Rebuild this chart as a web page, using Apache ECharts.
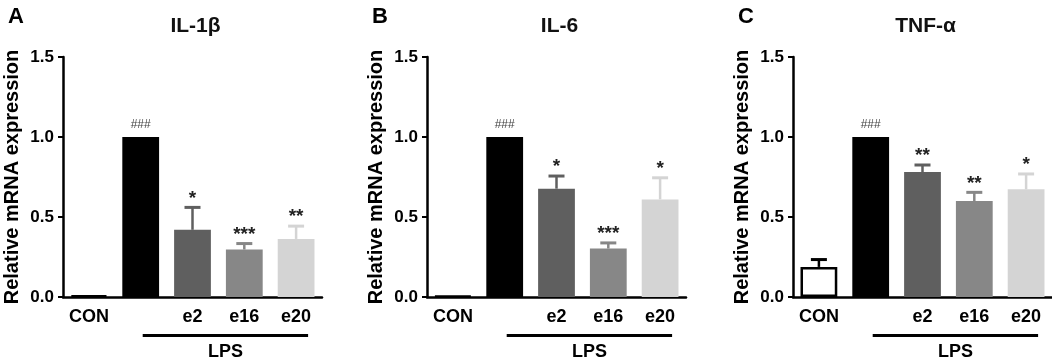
<!DOCTYPE html>
<html>
<head>
<meta charset="utf-8">
<script src="https://cdn.jsdelivr.net/npm/echarts@6/dist/echarts.min.js"></script>
<style>
  html, body { margin: 0; padding: 0; background: #fff; }
  #chart { width: 1052px; height: 361px; }
</style>
</head>
<body>
<div id="chart"></div>
<script>
const categories = ['CON', 'LPS', 'e2', 'e16', 'e20']
const tickLabels = ['CON', '', 'e2', 'e16', 'e20']
const barColors = ['#ffffff', '#000000', '#5f5f5f', '#878787', '#d4d4d4']

const panelLetters = ['A', 'B', 'C']
const panelTitles = ['IL-1β', 'IL-6', 'TNF-α']

// mean and SEM (upper error bar only) per group
const il1bMean = [0.01, 1.0, 0.42, 0.297, 0.363]
const il1bSem = [0, 0, 0.14, 0.037, 0.08]
const il1bSig = ['', '###', '*', '***', '**']

const il6Mean = [0.005, 1.0, 0.677, 0.303, 0.61]
const il6Sem = [0, 0, 0.079, 0.035, 0.135]
const il6Sig = ['', '###', '*', '***', '*']

const tnfMean = [0.188, 1.0, 0.781, 0.6, 0.673]
const tnfSem = [0.046, 0, 0.044, 0.054, 0.096]
const tnfSig = ['', '###', '**', '**', '*']

const yTicks = [0, 0.5, 1.0, 1.5]

const panels = [
  { mean: il1bMean, sem: il1bSem, sig: il1bSig },
  { mean: il6Mean, sem: il6Sem, sig: il6Sig },
  { mean: tnfMean, sem: tnfSem, sig: tnfSig }
]

const font = '"Liberation Sans", Arial, sans-serif'
const gridLefts = [63, 427, 793]
const gridWidth = 259

const chart = echarts.init(document.getElementById('chart'))

const grid = []
const xAxis = []
const yAxis = []
const series = []
const title = []

panels.forEach((p, i) => {
  grid.push({ left: gridLefts[i], top: 57, width: gridWidth, height: 240 })

  title.push({
    text: panelTitles[i],
    left: gridLefts[i] + gridWidth / 2 - 2,
    top: 11,
    textAlign: 'center',
    textStyle: { fontFamily: font, fontWeight: 'bold', fontSize: 21, color: '#111' }
  })
  title.push({
    text: panelLetters[i],
    left: gridLefts[i] - 60,
    top: 1,
    textStyle: { fontFamily: font, fontWeight: 'bold', fontSize: 22, color: '#000' }
  })

  xAxis.push({
    gridIndex: i,
    type: 'category',
    data: categories,
    axisLine: { lineStyle: { color: '#000', width: 2.5 } },
    axisTick: { alignWithLabel: true, length: 5, lineStyle: { color: '#000', width: 2 } },
    axisLabel: {
      interval: 0,
      margin: 11,
      fontFamily: font, fontWeight: 'bold', fontSize: 18, color: '#000',
      formatter: (v, idx) => tickLabels[idx]
    }
  })

  yAxis.push({
    gridIndex: i,
    type: 'value',
    min: yTicks[0],
    max: yTicks[yTicks.length - 1],
    interval: 0.5,
    name: 'Relative mRNA expression',
    nameLocation: 'middle',
    nameGap: 41,
    nameTextStyle: { fontFamily: font, fontWeight: 'bold', fontSize: 20, color: '#000' },
    axisLine: { show: true, lineStyle: { color: '#000', width: 2.5 } },
    axisTick: { show: true, length: 5, lineStyle: { color: '#000', width: 2 } },
    axisLabel: {
      margin: 9,
      fontFamily: font, fontWeight: 'bold', fontSize: 17, color: '#000',
      formatter: v => v.toFixed(1)
    },
    splitLine: { show: false }
  })

  series.push({
    type: 'bar',
    xAxisIndex: i,
    yAxisIndex: i,
    barWidth: '71%',
    data: p.mean.map((v, k) => ({
      value: v,
      itemStyle: {
        color: barColors[k],
        borderColor: k === 0 ? '#000' : barColors[k],
        borderWidth: k === 0 ? 2.5 : 0
      }
    }))
  })

  // error bars + significance marks
  series.push({
    type: 'custom',
    xAxisIndex: i,
    yAxisIndex: i,
    clip: false,
    z: 3,
    data: p.mean.map((v, k) => [k, v, p.sem[k]]),
    renderItem: (params, api) => {
      const k = api.value(0)
      const mean = api.value(1)
      const sem = api.value(2)
      const base = api.coord([k, mean])
      const top = api.coord([k, mean + sem])
      const col = k === 0 ? '#000' : barColors[k]
      const children = []
      if (sem > 0) {
        children.push({
          type: 'line',
          shape: { x1: base[0], y1: base[1], x2: top[0], y2: top[1] },
          style: { stroke: col, lineWidth: 2.5 }
        })
        children.push({
          type: 'line',
          shape: { x1: top[0] - 8, y1: top[1], x2: top[0] + 8, y2: top[1] },
          style: { stroke: col, lineWidth: 3 }
        })
      }
      const s = p.sig[k]
      if (s) {
        const isHash = s[0] === '#'
        children.push({
          type: 'text',
          style: {
            text: s,
            x: top[0],
            y: top[1] - (isHash ? 12 : 9),
            align: 'center',
            verticalAlign: 'middle',
            font: isHash ? '12px ' + font : 'bold 19px ' + font,
            fill: isHash ? '#444' : '#222'
          }
        })
      }
      return { type: 'group', children }
    }
  })

  // LPS bracket under the axis
  series.push({
    type: 'custom',
    xAxisIndex: i,
    yAxisIndex: i,
    clip: false,
    silent: true,
    data: [[1, 4]],
    renderItem: (params, api) => {
      const a = api.coord([api.value(0), 0])
      const b = api.coord([api.value(1), 0])
      const x1 = a[0] + 2
      const x2 = b[0] + 12
      return {
        type: 'group',
        children: [
          {
            type: 'line',
            shape: { x1, y1: a[1] + 38.5, x2, y2: a[1] + 38.5 },
            style: { stroke: '#000', lineWidth: 3 }
          },
          {
            type: 'text',
            style: {
              text: 'LPS',
              x: (x1 + x2) / 2,
              y: a[1] + 55,
              align: 'center',
              verticalAlign: 'middle',
              font: 'bold 18px ' + font,
              fill: '#000'
            }
          }
        ]
      }
    }
  })
})

chart.setOption({
  animation: false,
  title,
  grid,
  xAxis,
  yAxis,
  series
})
</script>
</body>
</html>
